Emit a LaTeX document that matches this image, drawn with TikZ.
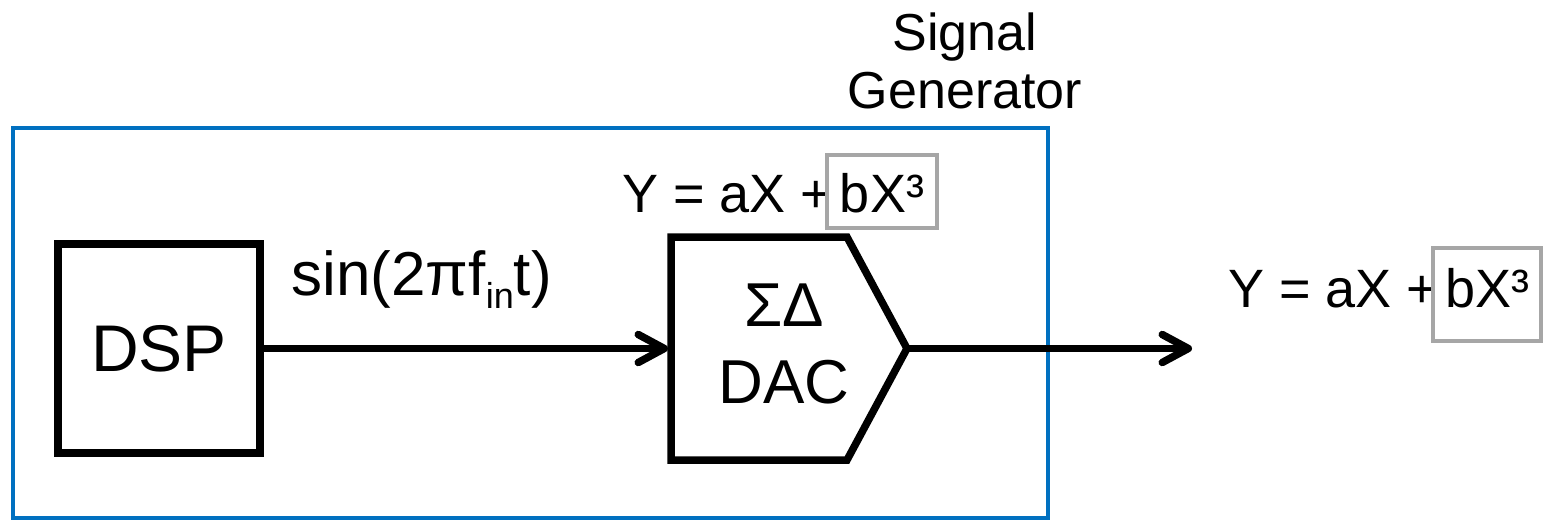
\documentclass[tikz,border=0pt]{standalone}
\usepackage{fontspec}
\setmainfont{Liberation Sans}
\usetikzlibrary{arrows.meta}
\definecolor{frameblue}{HTML}{0070C0}
\definecolor{termgray}{HTML}{A6A6A6}

\begin{document}
\begin{tikzpicture}[x=0.5pt,y=-0.5pt,
  blk/.style={draw=black, line width=3.75pt, inner sep=0pt},
  sig/.style={line width=3.75pt, -{Straight Barb[length=13pt,width=14pt,round]}},
  eqtext/.style={inner sep=0pt, font=\fontsize{27}{32}\selectfont},
  termbox/.style={draw=termgray, line width=2pt, inner sep=0pt, align=center,
    font=\fontsize{27}{32}\selectfont},
  lbl/.style={inner sep=0pt, font=\fontsize{26}{30}\selectfont}]

\useasboundingbox (0,0) rectangle (1546,521);

% signal generator enclosure
\draw[frameblue, line width=2.25pt] (13,128) rectangle (1048,518);
\node[lbl, anchor=base] (titleA) at (965,50) {Signal};
\node[lbl, anchor=base] (titleB) at (965,108) {Generator};

% DSP block
\node[blk, minimum width=101pt, minimum height=104.5pt,
      font=\fontsize{33}{36}\selectfont] (dsp) at (159,348.5) {DSP};

% sigma-delta DAC block with pointed output side
\draw[line width=3.75pt, miter limit=10] (671,237) -- (847,237) -- (907,348.5)
  -- (847,460) -- (671,460) -- cycle;
\coordinate (dacin) at (668,348.5);
\coordinate (dacout) at (907,348.5);
\node[inner sep=0pt, align=center, font=\fontsize{31}{38.5}\selectfont] (dac)
  at (784,344) {ΣΔ\\DAC};

% input tone
\node[lbl, anchor=base west, font=\fontsize{31}{36}\selectfont] (tone) at (291,295)
  {sin(2πf\raisebox{-6.5pt}{\fontsize{18}{18}\selectfont in}t)};

% DAC transfer characteristic
\node[eqtext, anchor=base west] (eqA) at (622,212) {Y = aX +};
\node[termbox, anchor=base, minimum width=55pt, text height=28.5pt, text depth=8pt]
  (termA) at (882,212) {bX³};

% output characteristic
\node[eqtext, anchor=base west] (eqB) at (1228,307) {Y = aX +};
\node[termbox, anchor=base, minimum width=54pt, text height=29.5pt, text depth=17pt]
  (termB) at (1487,307) {bX³};

% connectors
\coordinate (outtip) at (1192,348.5);
\draw[sig] (dsp.east) -- (dacin);
\draw[sig] (dacout) -- (outtip);
\end{tikzpicture}
\end{document}
